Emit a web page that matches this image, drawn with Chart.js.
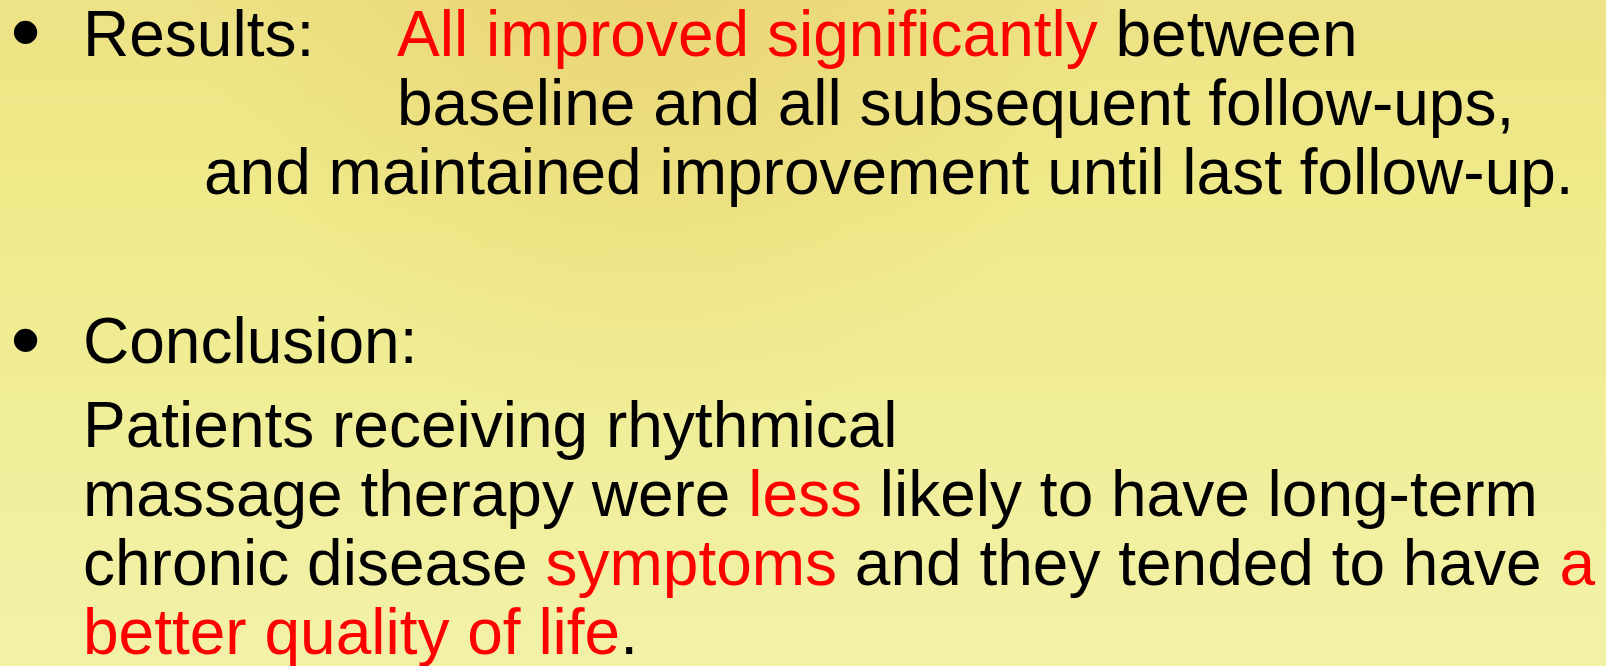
<!DOCTYPE html>
<html>
<head>
<meta charset="utf-8">
<script src="https://cdn.jsdelivr.net/npm/chart.js@4/dist/chart.umd.min.js"></script>
<style>
  html, body { margin: 0; padding: 0; width: 1606px; height: 666px; overflow: hidden; }
  #wrap { position: relative; width: 1606px; height: 666px; }
  #bg { position: absolute; left: 0; top: 0; }
  .ln { position: absolute; white-space: pre; font-family: "Liberation Sans", Arial, sans-serif;
        font-size: 64px; line-height: 64px; color: #000; margin: 0; }
  .bul { font-size: 86px; line-height: 86px; }
  .red { color: #ff0000; }
</style>
</head>
<body>
<div id="wrap">
  <canvas id="bg" width="1606" height="666"></canvas>
  <div id="text"></div>
</div>
<script>
// ---- content (text segments per line: [text, isRed]) ----
const bulletHeads = ["Results:", "Conclusion:"];
const resultsLine1 = [["All improved significantly", true], [" between", false]];
const resultsLine2 = [["baseline and all subsequent follow-ups,", false]];
const resultsLine3 = [["and maintained improvement until last follow-up.", false]];
const conclusionLines = [
  [["Patients receiving rhythmical", false]],
  [["massage therapy were ", false], ["less", true], [" likely to have long-term", false]],
  [["chronic disease ", false], ["symptoms", true], [" and they tended to have ", false], ["a", true]],
  [["better quality of life", true], [".", false]]
];

// ---- layout (baselines / left edges in px) ----
const ASC64 = 54.3; // baseline offset inside a 64px line box (Liberation Sans)
const ASC86 = 72.8; // baseline offset inside an 86px line box
const layout = [
  { segs: [["\u2022", false]], x: 10.5, base: 61, cls: 'bul', asc: ASC86 },
  { segs: [[bulletHeads[0], false]], x: 83, base: 56 },
  { segs: resultsLine1, x: 397, base: 56 },
  { segs: resultsLine2, x: 397, base: 125 },
  { segs: resultsLine3, x: 204, base: 194 },
  { segs: [["\u2022", false]], x: 10.5, base: 369, cls: 'bul', asc: ASC86 },
  { segs: [[bulletHeads[1], false]], x: 83, base: 363 },
  { segs: conclusionLines[0], x: 83, base: 447 },
  { segs: conclusionLines[1], x: 83, base: 516 },
  { segs: conclusionLines[2], x: 83, base: 585 },
  { segs: conclusionLines[3], x: 83, base: 654 }
];

const host = document.getElementById('text');
layout.forEach(l => {
  const d = document.createElement('div');
  d.className = 'ln' + (l.cls ? ' ' + l.cls : '');
  d.style.left = l.x + 'px';
  d.style.top = (l.base - (l.asc || ASC64)) + 'px';
  l.segs.forEach(([t, red]) => {
    const s = document.createElement('span');
    s.textContent = t;
    if (red) s.className = 'red';
    d.appendChild(s);
  });
  host.appendChild(d);
});

// ---- Chart.js canvas used as the slide background ----
const slideBackground = {
  id: 'slideBackground',
  beforeDraw(chart) {
    const { ctx, width, height } = chart;
    ctx.save();
    const lg = ctx.createLinearGradient(0, 0, 0, height);
    lg.addColorStop(0, '#EDE285');
    lg.addColorStop(0.3, '#EFEA8A');
    lg.addColorStop(0.75, '#F1EF9E');
    lg.addColorStop(1, '#F2F1A8');
    ctx.fillStyle = lg;
    ctx.fillRect(0, 0, width, height);
    const rg = ctx.createRadialGradient(650, -30, 10, 650, -30, 460);
    rg.addColorStop(0, 'rgba(228,196,100,0.45)');
    rg.addColorStop(1, 'rgba(228,196,100,0)');
    ctx.fillStyle = rg;
    ctx.fillRect(0, 0, width, height);
    ctx.restore();
  }
};

new Chart(document.getElementById('bg'), {
  type: 'bar',
  data: { labels: [], datasets: [] },
  options: {
    responsive: false,
    animation: false,
    events: [],
    layout: { padding: 0 },
    plugins: { legend: { display: false }, tooltip: { enabled: false }, title: { display: false } },
    scales: { x: { display: false }, y: { display: false } }
  },
  plugins: [slideBackground]
});
</script>
</body>
</html>
